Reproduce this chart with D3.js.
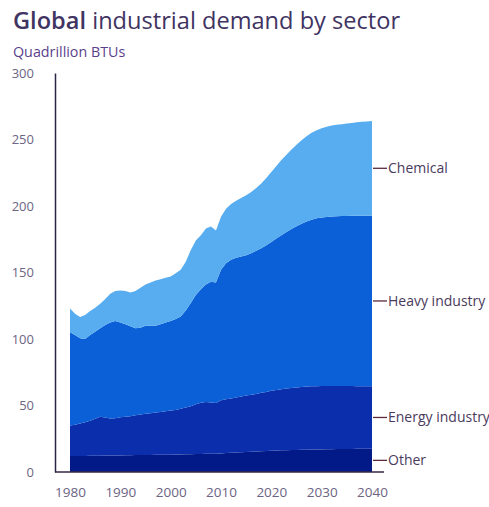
<!DOCTYPE html>
<html>
<head>
<meta charset="utf-8">
<script src="https://cdn.jsdelivr.net/npm/d3@7/dist/d3.min.js"></script>
<style>
  html, body { margin: 0; padding: 0; background: #ffffff; }
  svg { display: block; font-family: "Open Sans", "Noto Sans", sans-serif; }
</style>
</head>
<body>
<svg id="chart" width="489" height="507"></svg>
<script>
// Global industrial energy demand by sector, quadrillion BTUs (history + outlook)
const years = d3.range(1980, 2041);

const sectors = ["Other", "Energy industry", "Heavy industry", "Chemical"];

const other = [
  12, 12, 12, 12.1, 12.2, 12.3, 12.3, 12.4, 12.4, 12.5,
  12.5, 12.6, 12.6, 12.7, 12.7, 12.8, 12.8, 12.9, 12.9, 13,
  13, 13.1, 13.2, 13.3, 13.4, 13.5, 13.6, 13.7, 13.8, 13.8,
  14, 14.2, 14.4, 14.6, 14.8, 15, 15.2, 15.4, 15.6, 15.8,
  16, 16.1, 16.3, 16.4, 16.5, 16.6, 16.7, 16.8, 16.9, 17,
  17, 17.1, 17.1, 17.2, 17.2, 17.3, 17.3, 17.4, 17.4, 17.5, 17.5
];

const energyIndustry = [
  23, 23.5, 24.5, 25.4, 26.3, 27.7, 29.2, 28.6, 27.8, 28,
  28.7, 28.9, 29.4, 30, 30.5, 31, 31.4, 31.8, 32.3, 32.7,
  33.2, 33.6, 34.3, 35.2, 36.1, 37.5, 38.4, 39, 38.4, 38,
  40, 40.5, 40.9, 41.4, 41.9, 42.5, 42.8, 43.3, 43.9, 44.4,
  45, 45.5, 45.9, 46.3, 46.7, 47, 47.2, 47.4, 47.5, 47.5,
  47.6, 47.5, 47.5, 47.4, 47.4, 47.3, 47.3, 47.1, 47.1, 47, 47
];

const heavyIndustry = [
  70, 67.5, 64, 62.5, 64.5, 65.5, 66.5, 69.5, 72.3, 73,
  71.3, 69.5, 67.5, 65.3, 65.3, 66.2, 65.8, 65.3, 65.8, 66.8,
  67.3, 68.3, 69.5, 73, 77.5, 82, 85.5, 88.3, 90.8, 90.7,
  98, 102.3, 104.2, 105, 105.3, 105.5, 106.5, 107.6, 108.8, 110.3,
  112, 113.9, 115.8, 117.8, 119.6, 121.2, 122.8, 124.1, 125.3, 126.2,
  126.7, 127.2, 127.5, 127.7, 127.8, 127.9, 128, 128.1, 128.2, 128.2, 128.2
];

const chemical = [
  18, 16, 16, 18, 18, 18, 18.5, 19.5, 21.5, 22.5,
  24, 25, 25.5, 28, 30, 31, 32.5, 34, 34, 33.5,
  33.5, 34.5, 35, 36.5, 40, 41, 40.5, 42, 41.5, 39,
  40, 41, 42, 43, 44, 45, 46, 47.2, 48.7, 50.5,
  52.5, 54.5, 56.5, 58, 59.7, 61.2, 62.8, 64.2, 65.3, 66.3,
  67.2, 67.7, 68.4, 68.7, 69.1, 69.5, 69.9, 70.4, 70.6, 70.9, 71.3
];

const yTicks = [0, 50, 100, 150, 200, 250, 300];
const xTicks = [1980, 1990, 2000, 2010, 2020, 2030, 2040];

const colors = {
  "Other": "#021a88",
  "Energy industry": "#0b2eac",
  "Heavy industry": "#0b60d7",
  "Chemical": "#57adef"
};

// rows for the stack layout
const rows = years.map((yr, i) => ({
  year: yr,
  "Other": other[i],
  "Energy industry": energyIndustry[i],
  "Heavy industry": heavyIndustry[i],
  "Chemical": chemical[i]
}));

const svg = d3.select("#chart");

const x = d3.scaleLinear().domain([1980, 2040]).range([70, 372]);
const y = d3.scaleLinear().domain([0, 300]).range([472, 73]);

const stacked = d3.stack().keys(sectors)(rows);

const area = d3.area()
  .x(d => x(d.data.year))
  .y0(d => y(d[0]))
  .y1(d => y(d[1]))
  .curve(d3.curveLinear);

svg.append("g")
  .selectAll("path")
  .data(stacked)
  .join("path")
  .attr("d", area)
  .attr("fill", d => colors[d.key]);

// Title and unit
svg.append("text")
  .attr("x", 13).attr("y", 29)
  .attr("font-size", 23.6)
  .attr("fill", "#3f3462")
  .call(t => {
    t.append("tspan").attr("font-weight", 600).text("Global");
    t.append("tspan").text(" industrial demand by sector");
  });

svg.append("text")
  .attr("x", 13).attr("y", 56.5)
  .attr("font-size", 14.3)
  .attr("fill", "#5b3f8d")
  .text("Quadrillion BTUs");

// Y axis: line with value labels on the left
const yAxis = d3.axisLeft(y)
  .tickValues(yTicks)
  .tickSize(0)
  .tickPadding(21)
  .tickFormat(d3.format("d"));

const gy = svg.append("g")
  .attr("transform", "translate(55,0)")
  .call(yAxis);
gy.select(".domain").attr("stroke", "#2b2545").attr("stroke-width", 1.5);
gy.selectAll("text")
  .attr("font-size", 13)
  .attr("font-family", "Open Sans, sans-serif")
  .attr("fill", "#6c6482");

// X axis: baseline with year labels
const xAxis = d3.axisBottom(x)
  .tickValues(xTicks)
  .tickSize(0)
  .tickPadding(15)
  .tickFormat(d3.format("d"));

const gx = svg.append("g")
  .attr("transform", "translate(0,472)")
  .call(xAxis);
gx.select(".domain").remove();
gx.selectAll("text")
  .attr("font-size", 13.5)
  .attr("font-family", "Open Sans, sans-serif")
  .attr("fill", "#6c6482");

svg.append("line")
  .attr("x1", 55).attr("x2", 384)
  .attr("y1", 472).attr("y2", 472)
  .attr("stroke", "#3a2845").attr("stroke-width", 1.5);

// Direct labels at the middle of each band in the last year
const last = years.length - 1;
const labels = svg.append("g");
stacked.forEach(s => {
  const mid = (s[last][0] + s[last][1]) / 2;
  const yy = y(mid);
  labels.append("line")
    .attr("x1", x(2040) + 1).attr("x2", x(2040) + 15)
    .attr("y1", yy).attr("y2", yy)
    .attr("stroke", "#5a2a3e").attr("stroke-width", 1.3);
  labels.append("text")
    .attr("x", x(2040) + 16).attr("y", yy)
    .attr("dy", "0.35em")
    .attr("font-size", 14)
    .attr("fill", "#4a3b5c")
    .text(s.key);
});
</script>
</body>
</html>
